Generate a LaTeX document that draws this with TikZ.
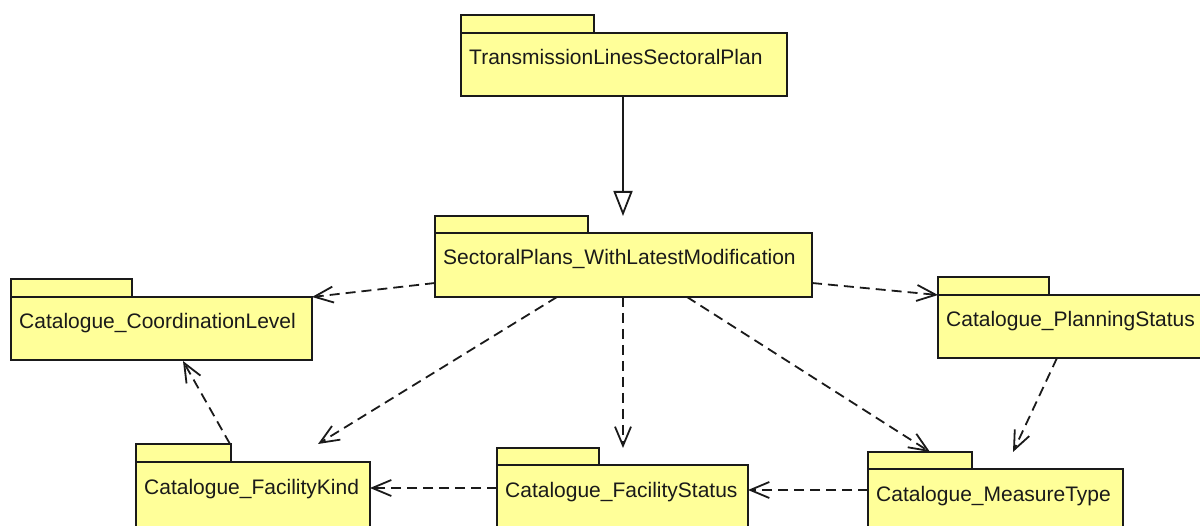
\documentclass[tikz,border=0pt]{standalone}
\usepackage{fontspec}
\setmainfont{Liberation Sans}
\usetikzlibrary{arrows.meta,calc}
\definecolor{pkgfill}{HTML}{FFFF99}
\definecolor{ink}{HTML}{1A1A1A}
\tikzset{
  pkgtab/.style={draw=ink, fill=pkgfill, line width=2pt},
  pkgbody/.style={draw=ink, fill=pkgfill, line width=2pt, rectangle, inner sep=0pt, outer sep=0pt, anchor=north west},
  pkglabel/.style={anchor=base west, inner sep=0pt, text=ink, font=\fontsize{21}{25}\selectfont},
  depend/.style={draw=ink, line width=1.8pt, dash pattern=on 10pt off 6pt, -{Straight Barb[length=19pt,width=16pt,line width=1.8pt]}},
  general/.style={draw=ink, line width=1.8pt, -{Triangle[open,length=25pt,width=19pt,line width=1.8pt,fill=white]}}
}
% \pkgbox{name}{x}{tabtop}{tabright}{bodytop}{width}{height}{text}
\newcommand\pkgbox[8]{%
  \draw[pkgtab] (#2,#3) rectangle (#4,#5);
  \node[pkgbody, minimum width=#6pt, minimum height=#7pt] (#1) at (#2,#5) {};
  \node[pkglabel] (#1-label) at ($(#1.north west)+(8,32)$) {#8};
}
\begin{document}
\begin{tikzpicture}[x=1pt,y=-1pt]
\clip (0,0) rectangle (1200,526);
\fill[white] (0,0) rectangle (1200,526);

\pkgbox{tl}{461}{15}{594}{33}{326}{63}{TransmissionLinesSectoralPlan}
\pkgbox{sp}{435}{216}{588}{233}{377}{64}{SectoralPlans\_WithLatestModification}
\pkgbox{cl}{11}{279}{132}{297}{301}{63}{Catalogue\_CoordinationLevel}
\pkgbox{ps}{938}{277}{1049}{295}{266}{63}{Catalogue\_PlanningStatus}
\pkgbox{fk}{136}{444}{231}{462}{234}{80}{Catalogue\_FacilityKind}
\pkgbox{fs}{497}{448}{599}{465}{251}{80}{Catalogue\_FacilityStatus}
\pkgbox{mt}{868}{452}{972}{469}{255}{80}{Catalogue\_MeasureType}

\coordinate (tl-out) at ($(tl.south west)+(162,0)$);
\coordinate (sp-in) at ($(sp.north west)+(188,-17)$);
\draw[general] (tl-out) -- (sp-in);

\draw[depend] ($(sp.north west)+(0,50)$) -- (cl.north east);
\draw[depend] ($(sp.north east)+(0,50)$) -- (ps.north west);
\draw[depend] ($(sp.south west)+(122,0)$) -- ($(fk.north west)+(182,-18)$);
\draw[depend] ($(sp.south west)+(188,0)$) -- ($(fs.north west)+(126,-17)$);
\draw[depend] ($(sp.south west)+(252,0)$) -- ($(mt.north west)+(62,-17)$);
\draw[depend] ($(ps.south west)+(119,0)$) -- ($(mt.north west)+(145,-17)$);
\draw[depend] ($(fk.north west)+(94,-18)$) -- ($(cl.south west)+(172,1)$);
\draw[depend] ($(mt.north west)+(0,21)$) -- ($(fs.north east)+(0,25)$);
\draw[depend] ($(fs.north west)+(0,23)$) -- ($(fk.north east)+(0,26)$);
\end{tikzpicture}
\end{document}
